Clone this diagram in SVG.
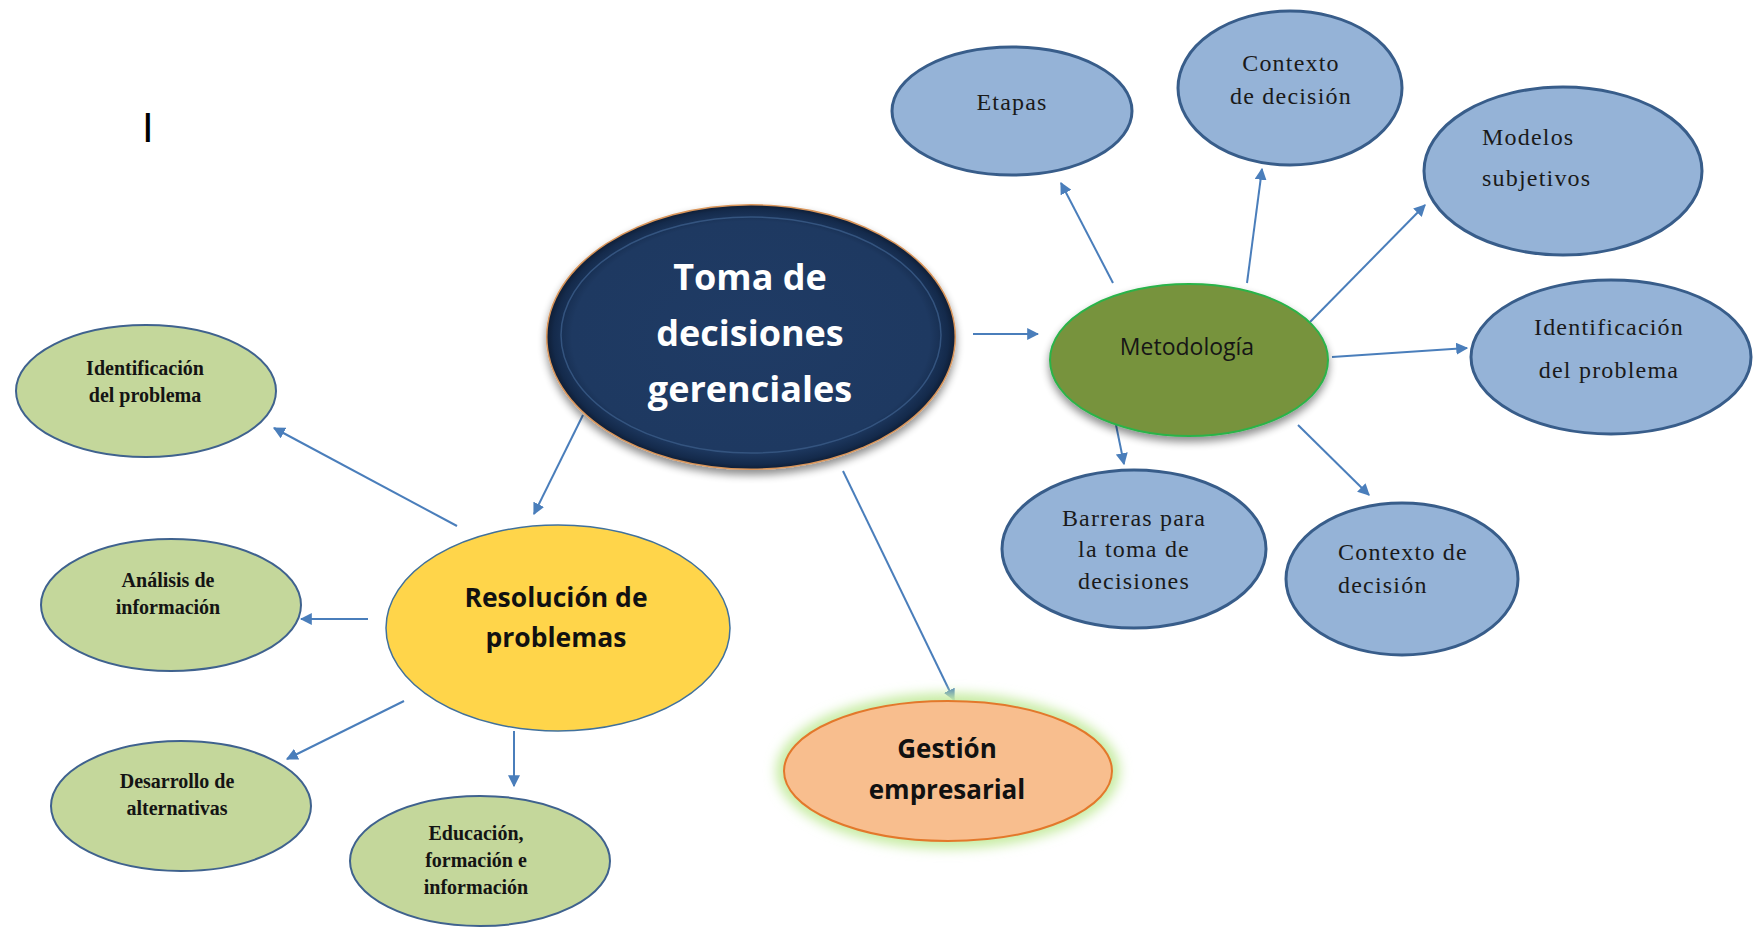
<svg xmlns="http://www.w3.org/2000/svg" width="1761" height="927" viewBox="0 0 1761 927">
  <defs>
    <style>
      .conn { stroke: #4a7ebb; stroke-width: 2; fill: none; marker-end: url(#arr); }
      .blue { fill: #95b3d7; stroke: #385d8a; stroke-width: 3; }
      .green { fill: #c4d79b; stroke: #3f628e; stroke-width: 2; }
      .btxt { font-family: "Liberation Serif", "Times New Roman", serif; font-size: 24px; fill: #1a1a1a; letter-spacing: 1.2px; }
      .gtxt { font-family: "Liberation Serif", "Times New Roman", serif; font-size: 20px; font-weight: bold; fill: #141414; text-anchor: middle; }
      .mid { text-anchor: middle; }
      .big { font-family: "Open Sans", "Liberation Sans", sans-serif; font-weight: bold; }
    </style>
    <marker id="arr" viewBox="0 0 10 10" refX="9" refY="5" markerWidth="6" markerHeight="6" markerUnits="strokeWidth" orient="auto">
      <path d="M0,0 L10,5 L0,10 z" fill="#4a7ebb"/>
    </marker>
    <radialGradient id="navy" cx="50%" cy="50%" r="50%">
      <stop offset="0%" stop-color="#1f3b65"/>
      <stop offset="88%" stop-color="#1e3961"/>
      <stop offset="97%" stop-color="#142a4b"/>
      <stop offset="100%" stop-color="#0f1f38"/>
    </radialGradient>
    <filter id="shadow" x="-20%" y="-20%" width="140%" height="150%">
      <feGaussianBlur in="SourceAlpha" stdDeviation="4"/>
      <feOffset dx="0" dy="5" result="b"/>
      <feComponentTransfer><feFuncA type="linear" slope="0.45"/></feComponentTransfer>
      <feMerge><feMergeNode/><feMergeNode in="SourceGraphic"/></feMerge>
    </filter>
    <filter id="glow" x="-20%" y="-30%" width="140%" height="160%">
      <feGaussianBlur stdDeviation="6"/>
    </filter>
  </defs>

  <rect width="1761" height="927" fill="#ffffff"/>

  <text x="142" y="142" font-family="Liberation Sans, Arial, sans-serif" font-size="42" fill="#000">I</text>

  <g id="connectors">
    <line class="conn" x1="973" y1="334" x2="1038" y2="334"/>
    <line class="conn" x1="583" y1="415" x2="534" y2="514"/>
    <line class="conn" x1="843" y1="471" x2="954" y2="700"/>
    <line class="conn" x1="457" y1="526" x2="274" y2="428"/>
    <line class="conn" x1="368" y1="619" x2="301" y2="619"/>
    <line class="conn" x1="404" y1="701" x2="287" y2="759"/>
    <line class="conn" x1="514" y1="731" x2="514" y2="786"/>
    <line class="conn" x1="1113" y1="283" x2="1061" y2="183"/>
    <line class="conn" x1="1247" y1="283" x2="1262" y2="169"/>
    <line class="conn" x1="1310" y1="322" x2="1425" y2="205"/>
    <line class="conn" x1="1332" y1="357" x2="1467" y2="348"/>
    <line class="conn" x1="1115" y1="420" x2="1124" y2="464"/>
    <line class="conn" x1="1298" y1="425" x2="1369" y2="495"/>
  </g>

  <g id="node-toma">
    <ellipse cx="751" cy="337" rx="205" ry="133" fill="#d9955a" filter="url(#shadow)"/>
    <ellipse cx="751" cy="337" rx="203.5" ry="131.5" fill="url(#navy)"/>
    <ellipse cx="751" cy="335" rx="190" ry="118" fill="none" stroke="#34547f" stroke-width="1.5"/>
    <text class="big mid" x="750" y="290" font-size="36" fill="#ffffff">Toma de</text>
    <text class="big mid" x="750" y="346" font-size="36" fill="#ffffff">decisiones</text>
    <text class="big mid" x="750" y="402" font-size="36" fill="#ffffff">gerenciales</text>
  </g>

  <g id="node-resolucion">
    <ellipse cx="558" cy="628" rx="172" ry="103" fill="#ffd54a" stroke="#41719c" stroke-width="1.5"/>
    <text class="big mid" x="556" y="607" font-size="26.5" fill="#111">Resolución de</text>
    <text class="big mid" x="556" y="647" font-size="26.5" fill="#111">problemas</text>
  </g>

  <g id="node-ident-izq">
    <ellipse class="green" cx="146" cy="391" rx="130" ry="66"/>
    <text class="gtxt" x="145" y="375">Identificación</text>
    <text class="gtxt" x="145" y="402">del problema</text>
  </g>

  <g id="node-analisis">
    <ellipse class="green" cx="171" cy="605" rx="130" ry="66"/>
    <text class="gtxt" x="168" y="587">Análisis de</text>
    <text class="gtxt" x="168" y="614">información</text>
  </g>

  <g id="node-desarrollo">
    <ellipse class="green" cx="181" cy="806" rx="130" ry="65"/>
    <text class="gtxt" x="177" y="788">Desarrollo  de</text>
    <text class="gtxt" x="177" y="815">alternativas</text>
  </g>

  <g id="node-educacion">
    <ellipse class="green" cx="480" cy="861" rx="130" ry="65"/>
    <text class="gtxt" x="476" y="840">Educación,</text>
    <text class="gtxt" x="476" y="867">formación e</text>
    <text class="gtxt" x="476" y="894">información</text>
  </g>

  <g id="node-gestion">
    <ellipse cx="948" cy="771" rx="172" ry="78" fill="#c8eca4" filter="url(#glow)"/>
    <ellipse cx="948" cy="771" rx="164" ry="70" fill="#f8be8e" stroke="#e3782b" stroke-width="2"/>
    <text class="big mid" x="947" y="758" font-size="26" fill="#111">Gestión</text>
    <text class="big mid" x="947" y="799" font-size="26" fill="#111">empresarial</text>
  </g>

  <g id="node-metodologia">
    <ellipse cx="1189" cy="360" rx="139" ry="76" fill="#77933c" stroke="#2cb34a" stroke-width="2" filter="url(#shadow)"/>
    <text x="1187" y="355" class="mid" font-family="Open Sans, Liberation Sans, sans-serif" font-size="23" fill="#161616">Metodología</text>
  </g>

  <g id="node-etapas">
    <ellipse class="blue" cx="1012" cy="111" rx="120" ry="64"/>
    <text class="btxt mid" x="1012" y="110" letter-spacing="2">Etapas</text>
  </g>

  <g id="node-contexto-sup">
    <ellipse class="blue" cx="1290" cy="88" rx="112" ry="77"/>
    <text class="btxt mid" x="1291" y="71">Contexto</text>
    <text class="btxt mid" x="1291" y="104">de decisión</text>
  </g>

  <g id="node-modelos">
    <ellipse class="blue" cx="1563" cy="171" rx="139" ry="84"/>
    <text class="btxt" x="1482" y="145">Modelos</text>
    <text class="btxt" x="1482" y="186">subjetivos</text>
  </g>

  <g id="node-ident-der">
    <ellipse class="blue" cx="1611" cy="357" rx="140" ry="77"/>
    <text class="btxt mid" x="1609" y="335">Identificación</text>
    <text class="btxt mid" x="1609" y="378">del problema</text>
  </g>

  <g id="node-barreras">
    <ellipse class="blue" cx="1134" cy="549" rx="132" ry="79"/>
    <text class="btxt mid" x="1134" y="526">Barreras para</text>
    <text class="btxt mid" x="1134" y="557">la toma de</text>
    <text class="btxt mid" x="1134" y="589">decisiones</text>
  </g>

  <g id="node-contexto-inf">
    <ellipse class="blue" cx="1402" cy="579" rx="116" ry="76"/>
    <text class="btxt" x="1338" y="560">Contexto de</text>
    <text class="btxt" x="1338" y="593">decisión</text>
  </g>
</svg>
